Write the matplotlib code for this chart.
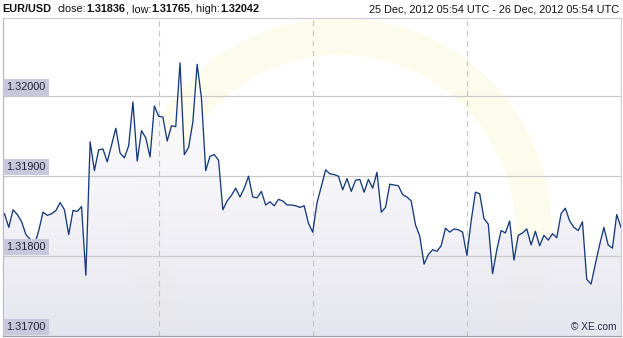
import numpy as np
import pandas as pd
import matplotlib
matplotlib.use('Agg')
import matplotlib.pyplot as plt
import matplotlib.dates as mdates
from matplotlib.colors import LinearSegmentedColormap
from matplotlib.patches import Wedge
import matplotlib.transforms as mtransforms

plt.rcParams['font.family'] = ['Liberation Sans', 'DejaVu Sans']

# EUR/USD, 10 minute quotes, 25 Dec 2012 05:54 UTC -> 26 Dec 2012 05:54 UTC
Start_Time = '2012-12-25 05:54'
Rate = [
	1.31853, 1.31836, 1.31858, 1.31852, 1.31843, 1.31827, 1.31821, 1.31814, 1.31832, 1.31855,
	1.31851, 1.31853, 1.31857, 1.31867, 1.31858, 1.31827, 1.31857, 1.31856, 1.31862, 1.31776,
	1.31943, 1.31907, 1.31933, 1.31934, 1.31918, 1.31939, 1.31960, 1.31929, 1.31923, 1.31938,
	1.31993, 1.31919, 1.31957, 1.31948, 1.31924, 1.31988, 1.31975, 1.31974, 1.31944, 1.31963,
	1.31962, 1.32042, 1.31927, 1.31936, 1.31968, 1.32040, 1.31998, 1.31907, 1.31925, 1.31927,
	1.31920, 1.31858, 1.31869, 1.31876, 1.31885, 1.31874, 1.31885, 1.31900, 1.31874, 1.31873,
	1.31881, 1.31864, 1.31868, 1.31863, 1.31871, 1.31869, 1.31864, 1.31864, 1.31863, 1.31861,
	1.31863, 1.31841, 1.31830, 1.31867, 1.31887, 1.31908, 1.31903, 1.31902, 1.31900, 1.31883,
	1.31897, 1.31881, 1.31895, 1.31896, 1.31880, 1.31896, 1.31885, 1.31905, 1.31855, 1.31861,
	1.31890, 1.31889, 1.31888, 1.31877, 1.31874, 1.31869, 1.31839, 1.31825, 1.31790, 1.31802,
	1.31808, 1.31806, 1.31813, 1.31835, 1.31830, 1.31834, 1.31833, 1.31830, 1.31801, 1.31844,
	1.31880, 1.31878, 1.31847, 1.31840, 1.31778, 1.31808, 1.31832, 1.31829, 1.31844, 1.31795,
	1.31826, 1.31829, 1.31834, 1.31814, 1.31831, 1.31813, 1.31826, 1.31820, 1.31828, 1.31823,
	1.31853, 1.31860, 1.31844, 1.31836, 1.31832, 1.31843, 1.31771, 1.31765, 1.31790, 1.31814,
	1.31836, 1.31814, 1.31810, 1.31852, 1.31836,
]
Y_Ticks = [1.317, 1.318, 1.319, 1.320]
Y_Tick_Labels = ['1.31700', '1.31800', '1.31900', '1.32000']
Pair = 'EUR/USD'
Period_Text = '25 Dec, 2012 05:54 UTC - 26 Dec, 2012 05:54 UTC'

Time = pd.date_range(Start_Time, periods=len(Rate), freq='10min')
Rate = np.array(Rate)

W, H = 623, 338
fig = plt.figure(figsize=(W / 100, H / 100), dpi=100)
fig.patch.set_facecolor('white')
ax = fig.add_axes([3 / W, 2 / H, 618 / W, 318 / H])

X_Min = Time[0] - pd.Timedelta(minutes=3.5)
X_Max = Time[-1]
Y_Min, Y_Max = 1.317, 1.32098
ax.set_xlim(X_Min, X_Max)
ax.set_ylim(Y_Min, Y_Max)

# faint watermark ring (XE logo), in pixels
ring = Wedge((340, H - 230), 212, 0, 360, width=37, transform=mtransforms.IdentityTransform(),
	facecolor='#fdfbec', edgecolor='none', zorder=0)
ax.add_patch(ring)
ring.set_clip_path(ax.patch)

# gradient fill under the line
poly = ax.fill_between(Time, Rate, Y_Min, color='none', zorder=1)
cmap = LinearSegmentedColormap.from_list('fill', ['#ffffff', '#f6f6fa', '#e3e3ec'])
grad = np.linspace(0, 1, 256).reshape(-1, 1)
im = ax.imshow(grad, extent=[mdates.date2num(X_Min), mdates.date2num(X_Max), Y_Min, Y_Max],
	aspect='auto', cmap=cmap, origin='upper', zorder=1, alpha=0.9)
im.set_clip_path(poly.get_paths()[0], transform=ax.transData)

# grid
for i_Tick in Y_Ticks[1:]:
	ax.axhline(i_Tick, color='#cacaca', linewidth=0.9, zorder=2)
for i_Hour in [6, 12, 18]:
	ax.axvline(Time[0] + pd.Timedelta(hours=i_Hour), color='#c4c4c4', linewidth=0.8,
		linestyle=(0, (5, 4)), zorder=2)

# price line
ax.plot(Time, Rate, color='#173a7c', linewidth=0.95, zorder=4)

# y labels in boxes
for i_Tick, i_Label in zip(Y_Ticks, Y_Tick_Labels):
	tr = mtransforms.blended_transform_factory(ax.transAxes, ax.transData)
	tr = mtransforms.offset_copy(tr, fig=fig, x=3, y=4, units='dots')
	ax.text(0.0, i_Tick, i_Label, transform=tr, fontsize=7.8, color='#22223a', ha='left', va='bottom',
		zorder=5, bbox=dict(boxstyle='square,pad=0.3', facecolor='#c8c8dc', edgecolor='none'))

ax.text(0.992, 0.012, '\u00a9 XE.com', transform=ax.transAxes, fontsize=7.3, color='#2a2a4a',
	ha='right', va='bottom', zorder=5)

ax.set_xticks([])
ax.set_yticks([])
for i_Side in ['top', 'right']:
	ax.spines[i_Side].set_color('#cfcfd8')
ax.spines['left'].set_color('#b8b8cc')
ax.spines['bottom'].set_color('#9c9cac')
for i_Side in ax.spines:
	ax.spines[i_Side].set_linewidth(0.9)

# header
renderer = fig.canvas.get_renderer()
Y_Head = 1 - 12.5 / H
fig.text(2 / W, Y_Head, Pair, fontsize=7.8, weight='bold', va='baseline', color='#111111')
Pieces = [
	('close:', 'normal'), ('{:.5f}'.format(Rate[-1]), 'bold'),
	(', low:', 'normal'), ('{:.5f}'.format(Rate.min()), 'bold'),
	(', high:', 'normal'), ('{:.5f}'.format(Rate.max()), 'bold'),
]
X_Pos = 58 / W
for i_Text, i_Weight in Pieces:
	t = fig.text(X_Pos, Y_Head, i_Text, fontsize=7.8, weight=i_Weight, va='baseline', color='#111111')
	X_Pos = t.get_window_extent(renderer).x1 / W
fig.text(619 / W, Y_Head, Period_Text, fontsize=7.8, ha='right', va='baseline', color='#111111')

fig.savefig('out.png', dpi=100)
